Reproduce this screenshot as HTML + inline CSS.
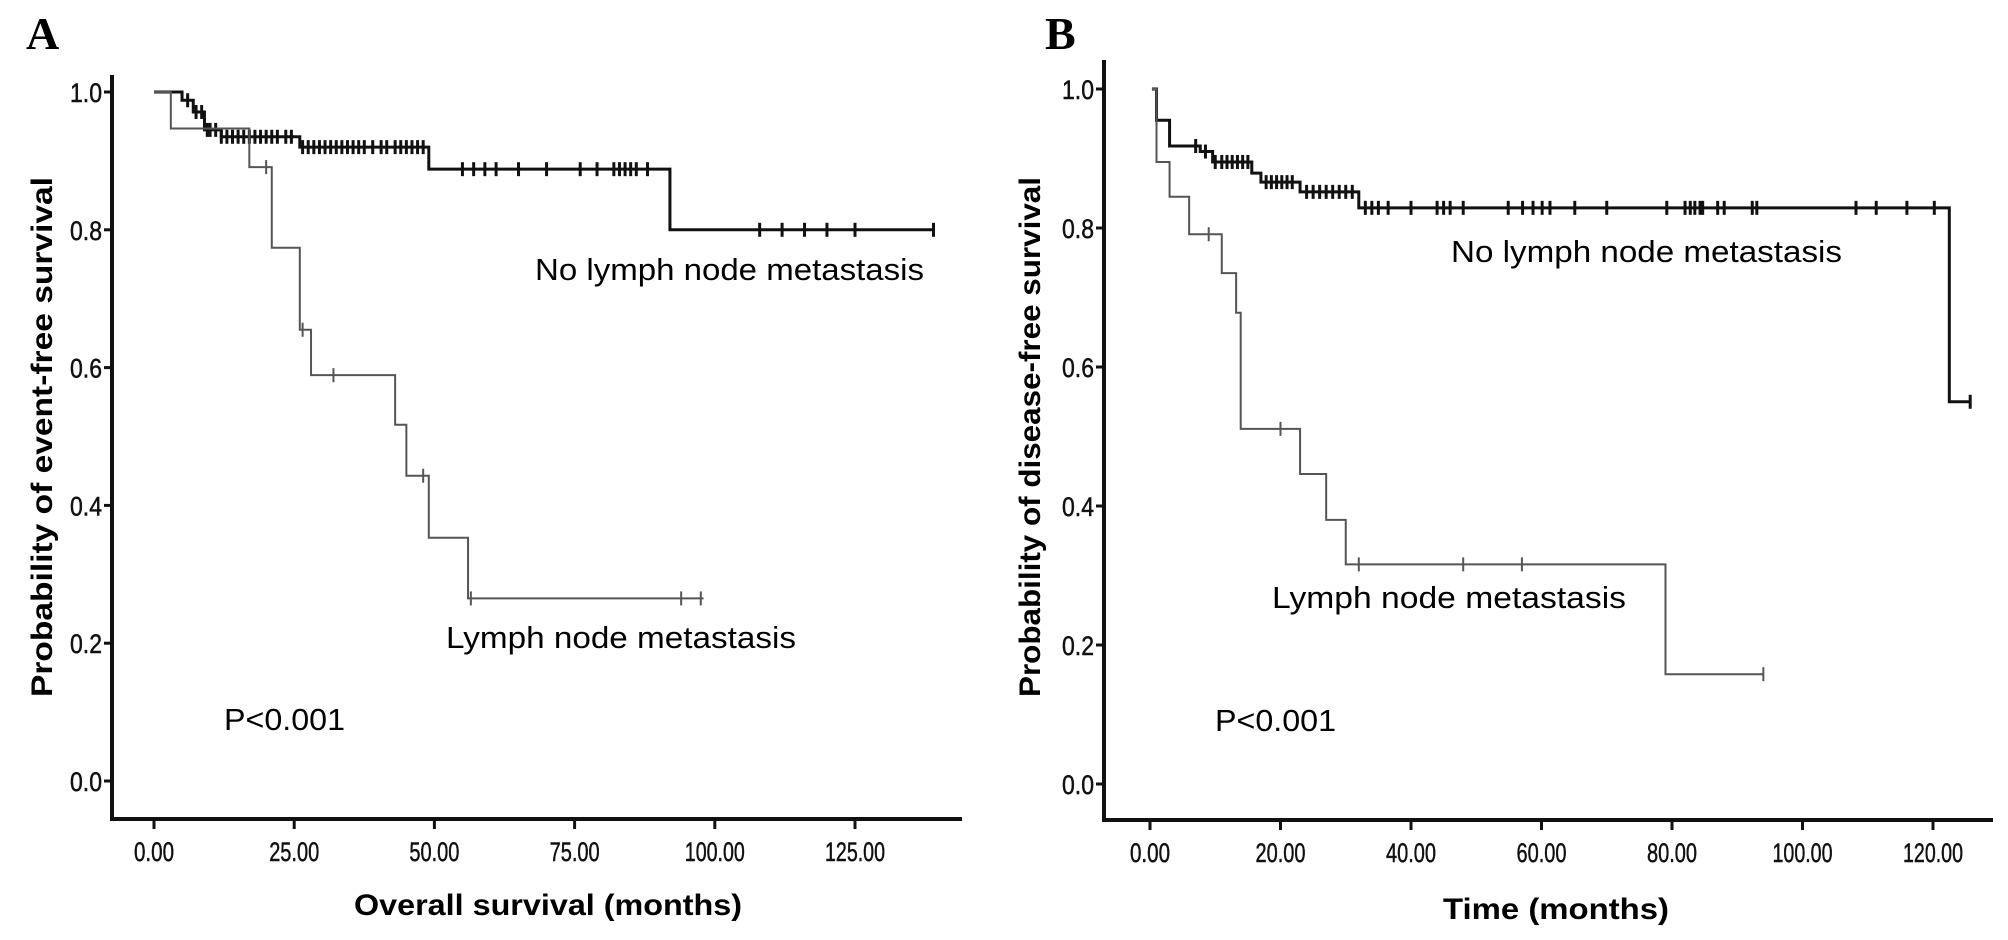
<!DOCTYPE html>
<html><head><meta charset="utf-8">
<style>
html,body{margin:0;padding:0;background:#fff;}
svg{display:block;}
text{font-family:"Liberation Sans",sans-serif;}
</style></head>
<body>
<svg id="fig" width="2008" height="940" viewBox="0 0 2008 940" xmlns="http://www.w3.org/2000/svg">
<text x="26" y="49" style="font-family:'Liberation Serif',serif" font-weight="bold" font-size="46">A</text>
<text x="1045" y="49" style="font-family:'Liberation Serif',serif" font-weight="bold" font-size="46">B</text>
<text transform="translate(52,437) rotate(-90)" text-anchor="middle" font-weight="bold" font-size="30" textLength="520" lengthAdjust="spacingAndGlyphs">Probability of event-free survival</text>
<text transform="translate(1040,437) rotate(-90)" text-anchor="middle" font-weight="bold" font-size="30" textLength="520" lengthAdjust="spacingAndGlyphs">Probability of disease-free survival</text>
<text x="548" y="915" text-anchor="middle" font-weight="bold" font-size="30" textLength="388" lengthAdjust="spacingAndGlyphs">Overall survival (months)</text>
<text x="1556" y="919" text-anchor="middle" font-weight="bold" font-size="30" textLength="226" lengthAdjust="spacingAndGlyphs">Time (months)</text>
<text x="535" y="280" font-size="31" textLength="389" lengthAdjust="spacingAndGlyphs">No lymph node metastasis</text>
<text x="446" y="648" font-size="31" textLength="350" lengthAdjust="spacingAndGlyphs">Lymph node metastasis</text>
<text x="1451" y="262" font-size="31" textLength="391" lengthAdjust="spacingAndGlyphs">No lymph node metastasis</text>
<text x="1272" y="608" font-size="31" textLength="354" lengthAdjust="spacingAndGlyphs">Lymph node metastasis</text>
<text x="224" y="730" font-size="31" textLength="121" lengthAdjust="spacingAndGlyphs">P&lt;0.001</text>
<text x="1215" y="731" font-size="31" textLength="121" lengthAdjust="spacingAndGlyphs">P&lt;0.001</text>
</svg>
<script>
// Panel A data
const aXTicks = [0, 25, 50, 75, 100, 125];
const aXTickLabels = ["0.00", "25.00", "50.00", "75.00", "100.00", "125.00"];
const yTicks = [0, 0.2, 0.4, 0.6, 0.8, 1.0];
const yTickLabels = ["0.0", "0.2", "0.4", "0.6", "0.8", "1.0"];
const aNoLnmTimes = [0, 5, 7, 9, 12, 26, 49, 92, 139];
const aNoLnmSurv  = [1.0, 0.988, 0.971, 0.945, 0.935, 0.92, 0.888, 0.80, 0.80];
const aNoLnmCensor = [6, 7.5, 8.5, 9.5, 10, 11, 12, 13, 14, 15, 16, 17, 18, 19, 20, 21, 22, 23.5, 24.5, 26.5, 27.5, 28.5, 29.5, 30.5, 31.5, 32.5, 33.5, 34.5, 35.5, 36.5, 37.5, 39, 40.5, 41.5, 43, 44, 45, 46, 47, 48, 55, 57, 59, 61, 65, 70, 76, 79, 82, 83, 84, 85, 86, 88, 108, 112, 116, 120, 125, 139];
const aLnmTimes = [0, 3, 17, 21, 26, 28, 43, 45, 49, 56, 98];
const aLnmSurv  = [1.0, 0.947, 0.891, 0.774, 0.655, 0.589, 0.517, 0.443, 0.353, 0.265, 0.265];
const aLnmCensor = [20, 26.5, 32, 48, 56.5, 94, 97.5];
// Panel B data
const bXTicks = [0, 20, 40, 60, 80, 100, 120];
const bXTickLabels = ["0.00", "20.00", "40.00", "60.00", "80.00", "100.00", "120.00"];
const bNoLnmTimes = [0.3, 1, 3, 7.7, 9.6, 15.6, 17, 23, 32, 122.5, 125.7];
const bNoLnmSurv  = [1.0, 0.955, 0.918, 0.91, 0.895, 0.879, 0.866, 0.852, 0.829, 0.55, 0.55];
const bNoLnmCensor = [7, 8.5, 10, 11, 11.8, 12.6, 13.4, 14.2, 15, 17.8, 18.6, 19.4, 20.2, 21, 21.8, 24, 25, 26, 27, 28, 29, 30, 31, 33, 34, 35, 36.5, 40, 44, 45, 46, 48, 54.9, 57.1, 58.7, 60.1, 61.3, 65.1, 70, 79.2, 82, 82.8, 83.5, 84.3, 84.7, 87, 88, 92.3, 93, 108.2, 111.3, 116, 120.2, 125.7];
const bLnmTimes = [0.3, 1, 3, 6, 11, 13.2, 13.9, 23, 27, 30, 79, 94];
const bLnmSurv  = [1.0, 0.895, 0.845, 0.791, 0.735, 0.678, 0.511, 0.446, 0.38, 0.316, 0.158, 0.158];
const bLnmCensor = [9, 20, 32, 48, 57, 94];

const NS = "http://www.w3.org/2000/svg";
const svg = document.getElementById('fig');
function mk(tag, attrs) { const e = document.createElementNS(NS, tag); for (const k in attrs) e.setAttribute(k, attrs[k]); svg.appendChild(e); return e; }

function stepVal(times, surv, t) { let v = surv[0]; for (let i = 0; i < times.length; i++) { if (times[i] <= t) v = surv[i]; } return v; }

function drawPanel(p, cfg) {
  const xs = t => cfg.x0 + t * cfg.kx;
  const ys = v => cfg.y0 - v * cfg.ky;
  const ax = mk('path', {d: `M${cfg.axX},${cfg.axTop} V${cfg.axY} H${cfg.axEnd}`, stroke: '#111', 'stroke-width': 4, fill: 'none'});
  
  
  cfg.xt.forEach((t, i) => {
    const tk = mk('line', {x1: xs(t), x2: xs(t), y1: cfg.axY, y2: cfg.axY + 10, stroke: '#111', 'stroke-width': 3});
    
    
    const tl = mk('text', {x: xs(t), y: cfg.axY + 42, 'text-anchor': 'middle', 'font-size': 27, textLength: cfg.xl[i].length * 10, lengthAdjust: 'spacingAndGlyphs', fill: '#111', stroke: '#111', 'stroke-width': 0.5});
    tl.textContent = cfg.xl[i];
    
    
  });
  yTicks.forEach((v, i) => {
    const tk = mk('line', {x1: cfg.axX - 8, x2: cfg.axX, y1: ys(v), y2: ys(v), stroke: '#111', 'stroke-width': 3});
    
    
    const tl = mk('text', {x: cfg.axX - 10, y: ys(v) + 10, 'text-anchor': 'end', 'font-size': 27, textLength: 32, lengthAdjust: 'spacingAndGlyphs', fill: '#111', stroke: '#111', 'stroke-width': 0.5});
    tl.textContent = yTickLabels[i];
    
    
  });
  cfg.series.forEach(s => {
    let d = `M${xs(s.t[0])},${ys(s.s[0])}`;
    for (let i = 1; i < s.t.length; i++) { d += ` H${xs(s.t[i])} V${ys(s.s[i])}`; }
    const ln = mk('path', {d: d, stroke: s.color, 'stroke-width': s.w, fill: 'none'});
    
    
    s.c.forEach(t => {
      const v = stepVal(s.t, s.s, t);
      const cm = mk('line', {x1: xs(t), x2: xs(t), y1: ys(v) - 7, y2: ys(v) + 7, stroke: s.color, 'stroke-width': s.w});
      
      
    });
  });
}

drawPanel('panel-a', {x0: 154, kx: 140.2 / 25, y0: 781, ky: 689, axX: 112, axTop: 75, axY: 819, axEnd: 962,
  xt: aXTicks, xl: aXTickLabels,
  series: [
    {name: 'no-lymph', t: aNoLnmTimes, s: aNoLnmSurv, c: aNoLnmCensor, color: '#111', w: 3},
    {name: 'lymph', t: aLnmTimes, s: aLnmSurv, c: aLnmCensor, color: '#555', w: 2}
  ]});
drawPanel('panel-b', {x0: 1150, kx: 130.5 / 20, y0: 784, ky: 695, axX: 1104, axTop: 60, axY: 820, axEnd: 1993,
  xt: bXTicks, xl: bXTickLabels,
  series: [
    {name: 'no-lymph', t: bNoLnmTimes, s: bNoLnmSurv, c: bNoLnmCensor, color: '#111', w: 3},
    {name: 'lymph', t: bLnmTimes, s: bLnmSurv, c: bLnmCensor, color: '#555', w: 2}
  ]});
</script>
</body></html>
